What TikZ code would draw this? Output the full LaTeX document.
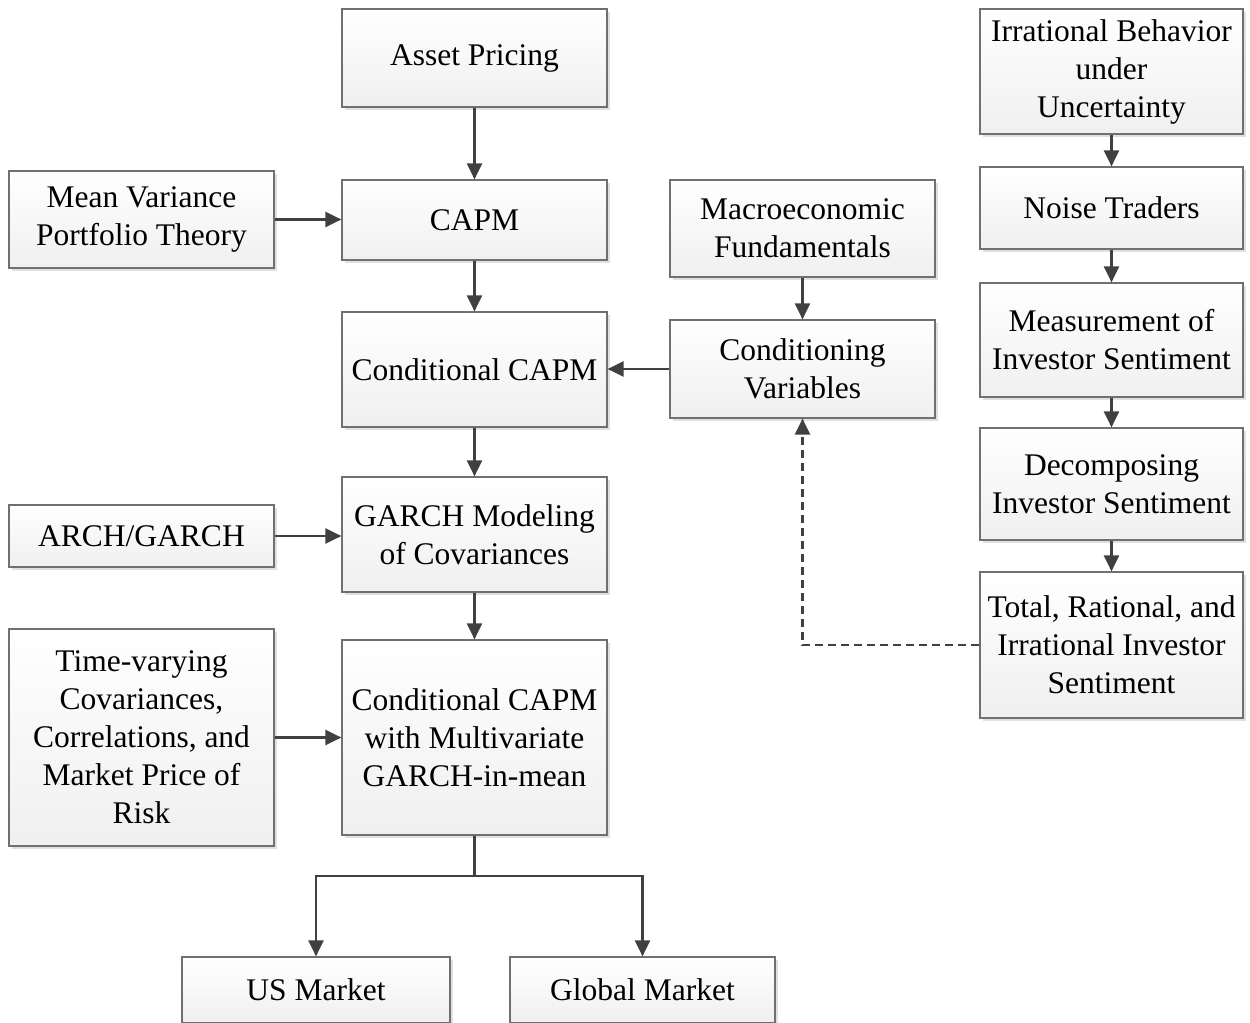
\documentclass[tikz,border=0pt]{standalone}
\usepackage{fontspec}
\setmainfont{Liberation Serif}
\usetikzlibrary{arrows.meta,shadows}
\definecolor{linec}{HTML}{404040}
\definecolor{borderc}{HTML}{707070}
\tikzset{
  box/.style={draw=borderc, line width=0.6pt, top color=white, bottom color=black!6,
    drop shadow={shadow xshift=1.6pt, shadow yshift=-1.6pt, fill=black!20, opacity=0.6},
    align=center, inner sep=0pt, font=\fontsize{15.75}{19}\selectfont},
  conn/.style={draw=linec, line width=1.1pt, -{Triangle[length=8pt,width=7.5pt]}},
  dconn/.style={conn, dashed, dash pattern=on 4pt off 2.5pt}
}
\begin{document}
\begin{tikzpicture}[x=0.5pt,y=-0.5pt]
\useasboundingbox (0,0) rectangle (1250,1023);
% left/center column
\node[box, minimum width=132.5pt, minimum height=49pt] (asset) at (474.5,58) {Asset Pricing};
\node[box, minimum width=132.5pt, minimum height=40pt] (capm) at (474.5,220) {CAPM};
\node[box, minimum width=132.5pt, minimum height=48.5pt] (mvpt) at (141.5,219.5) {Mean Variance\\Portfolio Theory};
\node[box, minimum width=132.5pt, minimum height=57.5pt] (ccapm) at (474.5,369.5) {Conditional CAPM};
\node[box, minimum width=132.5pt, minimum height=48.5pt] (macro) at (802.5,228.5) {Macroeconomic\\Fundamentals};
\node[box, minimum width=132.5pt, minimum height=49pt] (condvar) at (802.5,369) {Conditioning\\Variables};
\node[box, minimum width=132.5pt, minimum height=57.5pt] (garch) at (474.5,534.5) {GARCH Modeling\\of Covariances};
\node[box, minimum width=132.5pt, minimum height=31pt] (arch) at (141.5,536) {ARCH/GARCH};
\node[box, minimum width=132.5pt, minimum height=108.5pt] (tv) at (141.5,737.5) {Time-varying\\Covariances,\\Correlations, and\\Market Price of\\Risk};
\node[box, minimum width=132.5pt, minimum height=97.5pt] (mgarch) at (474.5,737.5) {Conditional CAPM\\with Multivariate\\GARCH-in-mean};
\node[box, minimum width=134pt, minimum height=33pt] (us) at (316,990) {US Market};
\node[box, minimum width=132.5pt, minimum height=33pt] (global) at (642.5,990) {Global Market};
% right column
\node[box, minimum width=131.5pt, minimum height=62.5pt] (irr) at (1111.5,71.5) {Irrational Behavior\\under\\Uncertainty};
\node[box, minimum width=131.5pt, minimum height=41pt] (noise) at (1111.5,208) {Noise Traders};
\node[box, minimum width=131.5pt, minimum height=57pt] (meas) at (1111.5,340) {Measurement of\\Investor Sentiment};
\node[box, minimum width=131.5pt, minimum height=56pt] (decomp) at (1111.5,484) {Decomposing\\Investor Sentiment};
\node[box, minimum width=131.5pt, minimum height=73pt] (total) at (1111.5,645) {Total, Rational, and\\Irrational Investor\\Sentiment};
% connectors
\draw[conn] (asset) -- (capm);
\draw[conn] (mvpt.east) -- (mvpt.east -| capm.west);
\draw[conn] (capm) -- (ccapm);
\draw[conn] (macro) -- (condvar);
\draw[conn] (condvar.west) -- (condvar.west -| ccapm.east);
\draw[conn] (ccapm) -- (garch);
\draw[conn] (arch.east) -- (arch.east -| garch.west);
\draw[conn] (garch) -- (mgarch);
\draw[conn] (tv) -- (mgarch);
\coordinate (fork) at (474.5,876);
\draw[draw=linec, line width=1.1pt] (mgarch.south) -- (fork);
\draw[conn] (fork) -| (us.north);
\draw[conn] (fork) -| (global.north);
\draw[conn] (irr) -- (noise);
\draw[conn] (noise) -- (meas);
\draw[conn] (meas) -- (decomp);
\draw[conn] (decomp) -- (total);
\draw[dconn] (total.west) -| (condvar.south);
\end{tikzpicture}
\end{document}
